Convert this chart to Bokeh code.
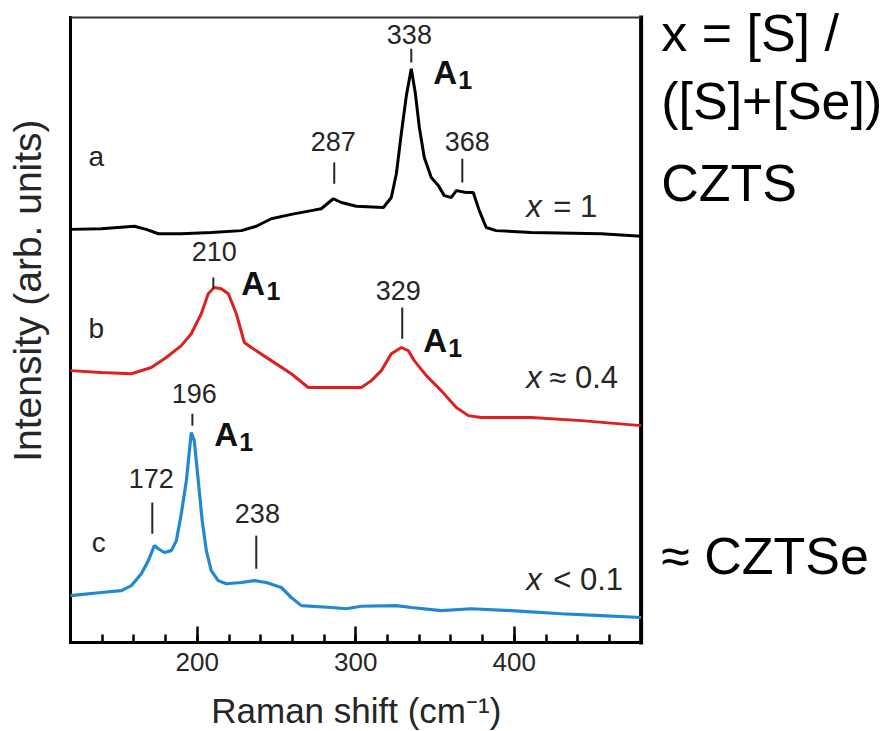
import math
from bokeh.plotting import figure
from bokeh.models import LinearAxis, Range1d, SingleIntervalTicker
from bokeh.embed import file_html
from bokeh.resources import INLINE
from bokeh.core.properties import value

# ---------------- data ----------------
# a : x = 1 (CZTS), black
shift_a = [120, 139.4, 160.3, 167.8, 175.4, 189.9, 208.8, 227.8, 237.2, 246.7, 259.3,
           271.9, 278.2, 285.8, 290.9, 300.3, 317.4, 322.4, 325.6, 328.7, 331.9, 335.0,
           337.5, 340.1, 343.2, 347.6, 352.1, 355.8, 360.3, 363.4, 369.7, 374.1, 377.9,
           382.3, 388.6, 410.7, 454.9, 480]
int_a = [66.1, 66.2, 66.6, 66.1, 65.4, 65.4, 65.6, 65.9, 66.6, 67.8, 68.5,
         69.1, 69.4, 71.0, 70.4, 69.8, 69.6, 71.2, 75.0, 81.4, 87.5, 91.8,
         88.0, 82.4, 77.6, 74.4, 73.1, 71.5, 71.2, 72.3, 72.0, 72.0, 69.1,
         66.4, 65.9, 65.6, 65.4, 65.0]

# b : x ~ 0.4, red
shift_b = [120, 139.4, 158.4, 171.0, 180.4, 189.9, 196.2, 202.5, 206.9, 210.7, 215.1,
           219.6, 224.6, 229.7, 234.1, 246.7, 259.3, 270.0, 284.5, 303.5, 309.8, 316.1,
           322.4, 328.7, 333.1, 336.9, 344.5, 353.9, 363.4, 371.0, 379.2, 410.7, 442.3, 480]
int_b = [43.5, 43.2, 43.0, 44.0, 45.6, 47.5, 49.4, 52.6, 55.8, 56.8, 56.6,
         55.8, 52.6, 48.0, 47.2, 45.1, 43.0, 40.8, 40.8, 40.8, 41.9, 43.5,
         46.2, 47.2, 46.7, 45.1, 42.7, 40.3, 37.6, 36.3, 36.0, 36.0, 35.5, 34.7]

# c : x < 0.1 (CZTSe), blue
shift_c = [120, 139.4, 152.1, 158.4, 164.7, 169.1, 172.9, 175.4, 179.2, 183.6, 186.8,
           189.9, 193.1, 196.2, 198.1, 200.6, 203.1, 205.7, 208.8, 213.2, 218.3, 227.8,
           236.0, 243.5, 253.0, 259.3, 265.6, 284.5, 294.0, 303.5, 325.6, 335.0, 353.9,
           372.9, 398.1, 429.7, 454.9, 480]
int_c = [7.5, 8.0, 8.3, 9.1, 11.0, 13.1, 15.5, 15.0, 14.4, 14.7, 16.3,
         20.6, 25.9, 33.6, 32.3, 25.9, 19.5, 14.7, 11.5, 9.9, 9.4, 9.6,
         9.9, 9.6, 8.8, 7.2, 5.9, 5.6, 5.4, 5.8, 5.9, 5.6, 5.1,
         5.4, 5.1, 4.6, 4.3, 4.0]

# peak markers: label text and position of marker
peak_labels = ["287", "338", "368", "210", "329", "196", "172", "238"]
peak_pos = [286.4, 335.0, 367.2, 210.1, 329.3, 196.9, 171.6, 237.2]

# axis limits of the drawn box
X_MIN, X_MAX = 120, 480
Y_MIN, Y_MAX = 0, 100

FONT = "Liberation Sans"
TXT = "#262626"

# frame covers the whole canvas so that all texts can be drawn as glyphs
PX_PER_X = 1.585          # pixels per cm^-1
PX_PER_Y = 6.25           # pixels per intensity unit
x_start = X_MIN - 70 / PX_PER_X
x_end = x_start + 888 / PX_PER_X
y_end = Y_MAX + 17 / PX_PER_Y
y_start = Y_MIN - 89 / PX_PER_Y

p = figure(width=888, height=731, output_backend="svg", toolbar_location=None,
           x_range=Range1d(x_start, x_end), y_range=Range1d(y_start, y_end),
           x_axis_type=None, y_axis_type=None,
           min_border_left=0, min_border_right=0, min_border_top=0,
           min_border_bottom=0)
p.outline_line_color = None
p.background_fill_color = "white"
p.border_fill_color = "white"

# bottom axis, drawn at intensity 0
xaxis = LinearAxis(ticker=SingleIntervalTicker(interval=100, num_minor_ticks=5),
                   bounds=(X_MIN, X_MAX), fixed_location=Y_MIN)
xaxis.axis_line_width = 3
xaxis.axis_line_color = "black"
xaxis.major_tick_in = 16
xaxis.major_tick_out = 0
xaxis.minor_tick_in = 8
xaxis.minor_tick_out = 0
xaxis.major_tick_line_width = 2.5
xaxis.minor_tick_line_width = 2.5
xaxis.major_tick_line_color = "black"
xaxis.minor_tick_line_color = "black"
xaxis.major_label_text_font = FONT
xaxis.major_label_text_font_size = "26px"
xaxis.major_label_text_color = TXT
xaxis.major_label_standoff = 10
p.add_layout(xaxis, "below")

# box: left, right and top borders
p.segment(x0=[X_MIN], y0=[Y_MIN], x1=[X_MIN], y1=[Y_MAX], line_color="black",
          line_width=3, line_cap="square")
p.segment(x0=[X_MAX], y0=[Y_MIN], x1=[X_MAX], y1=[Y_MAX], line_color="black",
          line_width=4, line_cap="square")
p.segment(x0=[X_MIN], y0=[Y_MAX], x1=[X_MAX], y1=[Y_MAX], line_color="#333333",
          line_width=2)

# curves
p.line(shift_a, int_a, line_color="black", line_width=3)
p.line(shift_b, int_b, line_color="#dd2020", line_width=3)
p.line(shift_c, int_c, line_color="#2189d0", line_width=3.2)

# peak marker ticks (vertical extents of the little bars)
tick_y0 = [73.4, 92.8, 73.6, 56.6, 48.6, 34.7, 17.4, 11.8]
tick_y1 = [76.8, 95.0, 77.4, 58.4, 53.6, 36.6, 22.4, 17.1]
p.segment(x0=peak_pos, y0=tick_y0, x1=peak_pos, y1=tick_y1,
          line_color=TXT, line_width=2)

# peak label positions (centres)
lab_x = [285.8, 333.8, 370.3, 210.7, 326.8, 198.1, 171.0, 237.9]
lab_y = [80.2, 97.3, 80.2, 62.6, 56.3, 39.8, 26.2, 20.6]
p.text(x=lab_x, y=lab_y, text=peak_labels, text_font=value(FONT),
       text_font_size="27px", text_align="center", text_baseline="middle",
       text_color=TXT)

# A1 labels
A_x = [348.9, 227.8, 342.6, 210.7]
A_y = [91.2, 57.4, 48.3, 33.3]
A_sub_x = [364.7, 243.6, 358.4, 226.5]
A_sub_y = [90.0, 56.2, 47.1, 32.1]
p.text(x=A_x, y=A_y, text=["A"] * 4, text_font=value(FONT), text_font_style="bold",
       text_font_size="33px", text_align="left", text_baseline="middle",
       text_color="#111111")
p.text(x=A_sub_x, y=A_sub_y, text=["1"] * 4, text_font=value(FONT),
       text_font_style="bold", text_font_size="25px", text_align="left",
       text_baseline="middle", text_color="#111111")

# sample labels a, b, c
p.text(x=[136.3, 136.3, 137.9], y=[77.8, 50.2, 16.0], text=["a", "b", "c"],
       text_font=value(FONT), text_font_size="28px", text_align="center",
       text_baseline="middle", text_color=TXT)

# composition labels
p.text(x=[407.6, 407.6, 407.6], y=[69.8, 42.4, 10.1], text=["x", "x", "x"],
       text_font=value(FONT), text_font_style="italic", text_font_size="31px",
       text_align="left", text_baseline="middle", text_color=TXT)
p.text(x=[424.6, 422.1, 424.6], y=[69.8, 42.4, 10.1], text=["= 1", "\u2248 0.4", "< 0.1"],
       text_font=value(FONT), text_font_size="31px", text_align="left",
       text_baseline="middle", text_color=TXT)

# axis titles
p.text(x=[92.7], y=[56.3], text=["Intensity (arb. units)"], angle=math.pi / 2,
       text_font=value(FONT), text_font_size="39px", text_align="center",
       text_baseline="middle", text_color=TXT)
p.text(x=[300.3], y=[-10.8], text=["Raman shift (cm\u207b\u00b9)"],
       text_font=value(FONT), text_font_size="35px", text_align="center",
       text_baseline="middle", text_color=TXT)

# right-hand notes
notes = ["x = [S] /", "([S]+[Se])", "CZTS", "\u2248 CZTSe"]
p.text(x=[492.7] * 4, y=[97.6, 86.7, 73.6, 13.8], text=notes,
       text_font=value(FONT), text_font_size="52px", text_align="left",
       text_baseline="middle", text_color="black")

open("out.html", "w").write(file_html(p, INLINE))
